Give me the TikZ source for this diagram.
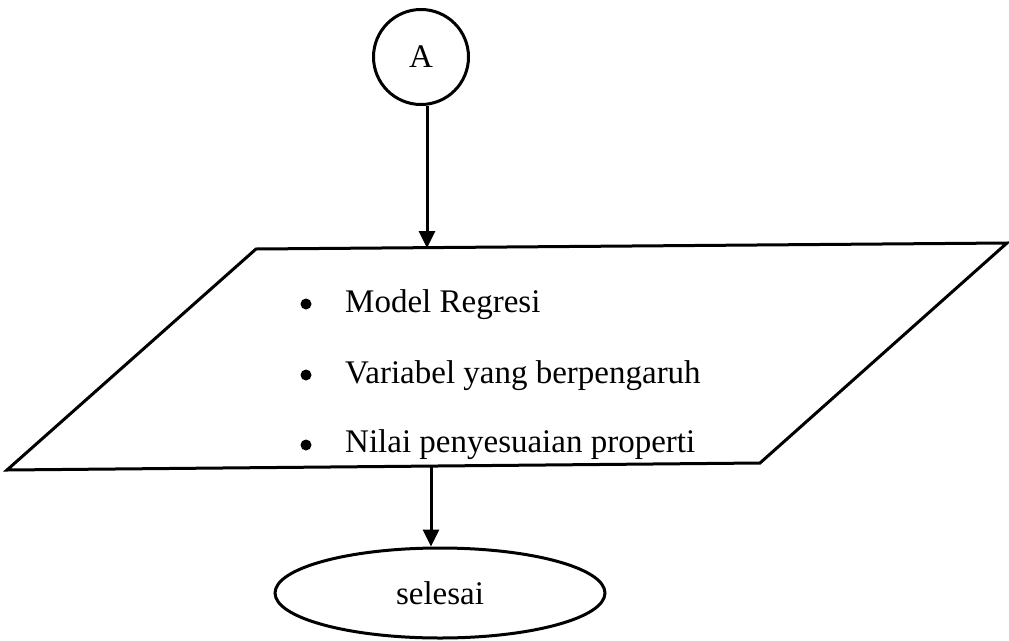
\documentclass[tikz,border=0pt]{standalone}
\usepackage{fontspec}
\setmainfont{Liberation Serif}
\usetikzlibrary{arrows.meta,shapes.geometric}
\begin{document}
\begin{tikzpicture}[x=1pt,y=-1pt,
  thickline/.style={line width=3pt},
  arr/.style={thickline, -{Triangle[length=17pt,width=16pt]}},
  txt/.style={font=\fontsize{33}{40}\selectfont, inner sep=0pt},
  dot/.style={circle, fill=black, minimum size=11pt, inner sep=0pt}]
\useasboundingbox (0,0) rectangle (1009,640);
% connector circle
\node[circle, draw, thickline, minimum size=95pt, inner sep=0pt, txt] (A) at (421,57) {A};
% parallelogram
\coordinate (p1) at (256,249);
\coordinate (p2) at (1007,243);
\coordinate (p3) at (760,463);
\coordinate (p4) at (7,470);
\draw[thickline, line join=miter] (p1) -- (p2) -- (p3) -- (p4) -- cycle;
\coordinate (ptop) at (427,248);
\coordinate (pbot) at (431,465);
% end ellipse
\node[ellipse, draw, thickline, minimum width=330pt, minimum height=90pt, inner sep=0pt, txt] (E) at (440,593) {selesai};
% items
\node[dot] (b1) at (306,304) {};
\node[txt, anchor=base west] (t1) at (345,312) {Model Regresi};
\node[dot] (b2) at (306,375) {};
\node[txt, anchor=base west] (t2) at (345,383) {Variabel yang berpengaruh};
\node[dot] (b3) at (306,445) {};
\node[txt, anchor=base west] (t3) at (345,452) {Nilai penyesuaian properti};
% arrows
\draw[arr] (A.south -| ptop) -- (ptop);
\draw[arr] (pbot) -- (pbot |- E.north);
\end{tikzpicture}
\end{document}
